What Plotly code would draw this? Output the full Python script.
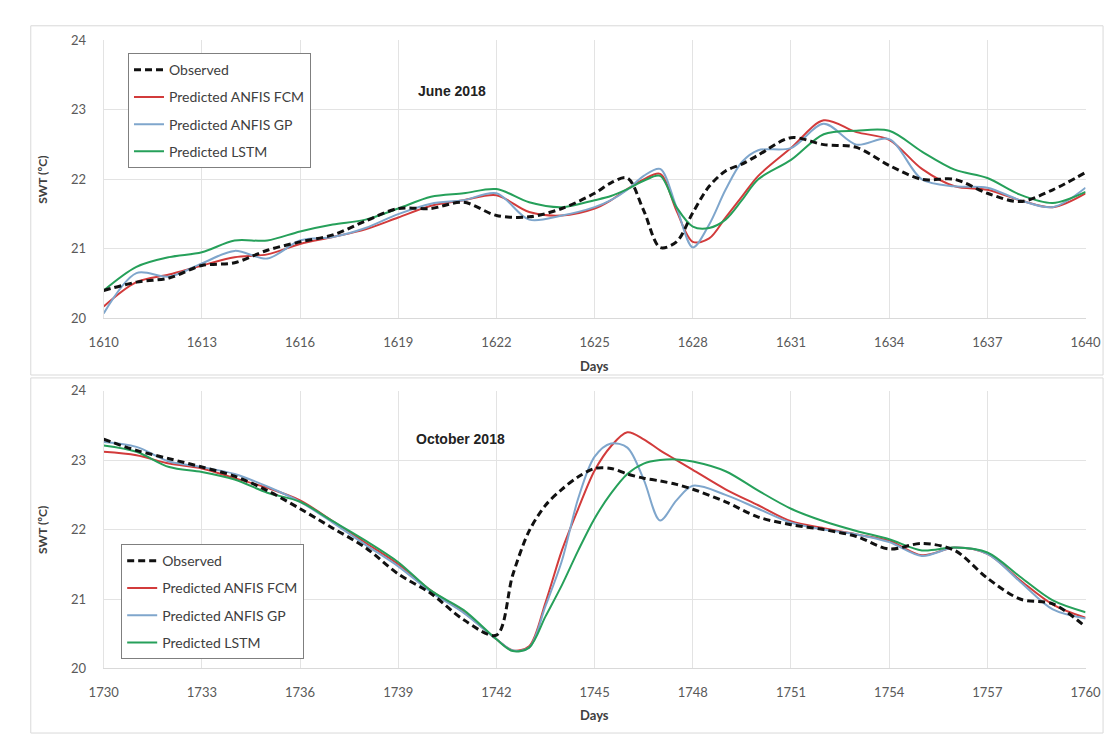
import plotly.graph_objects as go

W, H = 1113, 734

# ---------------- Data ----------------
days_june = [1610, 1611, 1612, 1613, 1614, 1615, 1616, 1617, 1618, 1619, 1620, 1621, 1622, 1623, 1624,
             1625, 1625.5, 1626, 1626.5, 1627, 1627.5, 1628, 1628.5, 1629, 1629.5, 1630,
             1631, 1632, 1633, 1634, 1635, 1636, 1637, 1638, 1639, 1640]
obs_june = [20.40, 20.52, 20.58, 20.76, 20.80, 20.98, 21.10, 21.20, 21.40, 21.58, 21.58, 21.67, 21.48, 21.46, 21.58,
            21.80, 21.95, 22.02, 21.55, 21.02, 21.10, 21.52, 21.90, 22.12, 22.22, 22.35,
            22.60, 22.50, 22.46, 22.20, 22.00, 22.00, 21.80, 21.68, 21.85, 22.10]
fcm_june = [20.17, 20.52, 20.63, 20.76, 20.88, 20.92, 21.07, 21.17, 21.28, 21.45, 21.62, 21.70, 21.77, 21.53, 21.48,
            21.58, 21.70, 21.86, 22.00, 22.08, 21.55, 21.10, 21.15, 21.45, 21.75, 22.05,
            22.45, 22.85, 22.68, 22.57, 22.15, 21.90, 21.85, 21.70, 21.60, 21.80]
gp_june = [20.07, 20.65, 20.60, 20.79, 20.97, 20.86, 21.12, 21.17, 21.30, 21.50, 21.65, 21.70, 21.80, 21.42, 21.48,
           21.60, 21.70, 21.85, 22.05, 22.15, 21.60, 21.02, 21.35, 21.85, 22.25, 22.42,
           22.45, 22.80, 22.50, 22.58, 22.00, 21.90, 21.88, 21.70, 21.60, 21.88]
lstm_june = [20.40, 20.74, 20.88, 20.95, 21.12, 21.12, 21.25, 21.35, 21.42, 21.58, 21.75, 21.80, 21.86, 21.67, 21.60,
             21.70, 21.76, 21.86, 21.98, 22.05, 21.60, 21.32, 21.30, 21.42, 21.70, 22.00,
             22.28, 22.65, 22.70, 22.70, 22.40, 22.14, 22.02, 21.78, 21.66, 21.82]

days_oct = [1730, 1731, 1732, 1733, 1734, 1735, 1736, 1737, 1738, 1739, 1740, 1741, 1742,
            1742.5, 1743, 1743.5, 1744, 1744.5, 1745, 1745.5, 1746, 1746.5, 1747, 1747.5, 1748,
            1749, 1750, 1751, 1752, 1753, 1754, 1755, 1756, 1757, 1758, 1759, 1760]
obs_oct = [23.30, 23.14, 23.02, 22.90, 22.77, 22.56, 22.30, 22.02, 21.74, 21.36, 21.08, 20.70, 20.48,
           21.35, 21.98, 22.35, 22.58, 22.76, 22.88, 22.88, 22.80, 22.74, 22.70, 22.65, 22.58,
           22.40, 22.18, 22.07, 22.00, 21.90, 21.72, 21.80, 21.70, 21.30, 21.00, 20.93, 20.60]
fcm_oct = [23.12, 23.07, 22.95, 22.88, 22.74, 22.60, 22.42, 22.12, 21.81, 21.50, 21.12, 20.81, 20.42,
           20.26, 20.32, 20.95, 21.70, 22.30, 22.85, 23.20, 23.40, 23.30, 23.14, 23.00, 22.86,
           22.58, 22.35, 22.12, 22.02, 21.93, 21.84, 21.63, 21.74, 21.65, 21.27, 20.92, 20.73]
gp_oct = [23.26, 23.19, 22.98, 22.90, 22.80, 22.62, 22.40, 22.10, 21.78, 21.47, 21.10, 20.80, 20.42,
          20.26, 20.30, 20.90, 21.55, 22.45, 23.05, 23.24, 23.18, 22.72, 22.13, 22.42, 22.63,
          22.50, 22.30, 22.10, 22.00, 21.93, 21.82, 21.62, 21.74, 21.65, 21.25, 20.85, 20.72]
lstm_oct = [23.21, 23.12, 22.90, 22.83, 22.72, 22.53, 22.40, 22.12, 21.84, 21.53, 21.12, 20.84, 20.42,
            20.25, 20.30, 20.75, 21.20, 21.70, 22.16, 22.52, 22.80, 22.95, 23.00, 23.01, 22.98,
            22.84, 22.56, 22.30, 22.12, 21.98, 21.86, 21.70, 21.74, 21.67, 21.32, 20.98, 20.81]

series_names = ["Observed", "Predicted ANFIS FCM", "Predicted ANFIS GP", "Predicted LSTM"]
panel_titles = ["June 2018", "October 2018"]
x_ticks_june = list(range(1610, 1641, 3))
x_ticks_oct = list(range(1730, 1761, 3))
y_ticks = [20, 21, 22, 23, 24]

# ---------------- Styling ----------------
colors = {"Observed": "#111111", "Predicted ANFIS FCM": "#d23b3b",
          "Predicted ANFIS GP": "#7fa6cc", "Predicted LSTM": "#26a05a"}
FONT = "Lato, 'Open Sans', sans-serif"
TICKC = "#595959"

def px(x):
    return x / W

def py(y):
    return 1 - y / H

fig = go.Figure()

panels = [
    (days_june, [obs_june, fcm_june, gp_june, lstm_june], "x", "y", "legend"),
    (days_oct, [obs_oct, fcm_oct, gp_oct, lstm_oct], "x2", "y2", "legend2"),
]
for days, vals, xa, ya, lg in panels:
    # draw predictions first, observed on top
    order = [1, 2, 3, 0]
    for i in order:
        name = series_names[i]
        dashed = (i == 0)
        fig.add_trace(go.Scatter(
            x=days, y=vals[i], name=name, mode="lines",
            line=dict(color=colors[name], width=3 if dashed else 2,
                      dash="7px,4px" if dashed else "solid",
                      shape="spline", smoothing=0.9),
            xaxis=xa, yaxis=ya, legend=lg, legendrank=i + 1,
            legendgroup=f"{lg}_{i}", showlegend=True,
        ))

xl, xr = px(83), px(1093)
common_x = dict(dtick=3, showgrid=True, gridcolor="#e3e3e3", gridwidth=1,
                zeroline=False, showline=True, linecolor="#d9d9d9", linewidth=1,
                ticks="", tickfont=dict(family=FONT, size=13, color=TICKC),
                ticklabelstandoff=12, fixedrange=True)
common_y = dict(range=[20, 24], tickvals=y_ticks, showgrid=True, gridcolor="#e3e3e3",
                gridwidth=1, zeroline=False, showline=True, linecolor="#e3e3e3",
                ticks="", tickfont=dict(family=FONT, size=13, color=TICKC),
                ticklabelstandoff=14, fixedrange=True)

legend_common = dict(bgcolor="white", bordercolor="#7f7f7f", borderwidth=1,
                     font=dict(family=FONT, size=14, color="#404040"),
                     traceorder="grouped", tracegroupgap=6,
                     xanchor="left", yanchor="top", itemwidth=30)

fig.update_layout(
    width=W, height=H, margin=dict(l=0, r=0, t=0, b=0),
    paper_bgcolor="white", plot_bgcolor="white",
    xaxis=dict(domain=[xl, xr], range=[1610, 1640], tickvals=x_ticks_june, anchor="y", **common_x),
    yaxis=dict(domain=[py(309), py(25)], anchor="x", **common_y),
    xaxis2=dict(domain=[xl, xr], range=[1730, 1760], tickvals=x_ticks_oct, anchor="y2", **common_x),
    yaxis2=dict(domain=[py(667), py(383)], anchor="x2", **common_y),
    legend=dict(x=px(108), y=py(38), **legend_common),
    legend2=dict(x=px(101), y=py(540), **legend_common),
    showlegend=True,
)

annotations = []
for title, (tx, ty) in zip(panel_titles, [(441, 77), (450, 432)]):
    annotations.append(dict(text=f"<b>{title}</b>", x=px(tx), y=py(ty), xref="paper", yref="paper",
                            xanchor="center", yanchor="middle", showarrow=False,
                            font=dict(family="Liberation Sans, Arial", size=14, color="#222222")))
for dy in [358, 715]:
    annotations.append(dict(text="<b>Days</b>", x=px(588), y=py(dy), xref="paper", yref="paper",
                            xanchor="center", yanchor="middle", showarrow=False,
                            font=dict(family=FONT, size=13, color="#404040")))
for sy in [167, 525]:
    annotations.append(dict(text="<b>SWT (ºC)</b>", x=px(20), y=py(sy), xref="paper", yref="paper",
                            xanchor="center", yanchor="middle", showarrow=False, textangle=-90,
                            font=dict(family=FONT, size=12, color="#404040")))
fig.update_layout(annotations=annotations)

shapes = [
    dict(type="rect", xref="paper", yref="paper", x0=px(8), x1=px(1111), y0=py(367), y1=py(10),
         line=dict(color="#d9d9d9", width=1), fillcolor="rgba(0,0,0,0)", layer="below"),
    dict(type="rect", xref="paper", yref="paper", x0=px(8), x1=px(1111), y0=py(733), y1=py(370),
         line=dict(color="#d9d9d9", width=1), fillcolor="rgba(0,0,0,0)", layer="below"),
]
fig.update_layout(shapes=shapes)

fig.write_html("out.html")
